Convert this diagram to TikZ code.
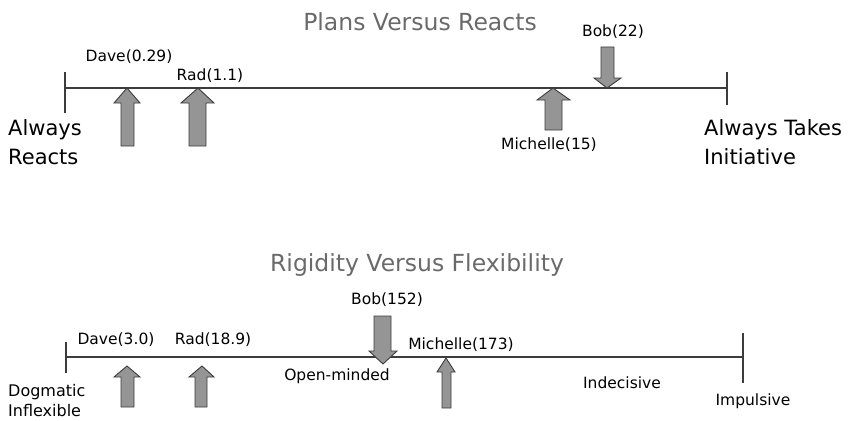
\documentclass[tikz,border=0pt]{standalone}
\usepackage{fontspec}
\setmainfont{DejaVu Sans}
\definecolor{axisgray}{HTML}{3C3C3C}
\definecolor{arrowfill}{HTML}{959595}
\definecolor{titlegray}{HTML}{6A6A6A}
\tikzset{
  axis/.style={axisgray, line width=1.3pt},
  blockarrow/.style={draw=axisgray, fill=arrowfill, line width=0.9pt, line join=miter},
  who/.style={inner sep=0pt, font=\fontsize{15.5}{18}\selectfont},
  pole/.style={inner sep=0pt, align=left, anchor=west, font=\fontsize{21}{29}\selectfont},
  smallpole/.style={inner sep=0pt, align=left, anchor=west, font=\fontsize{16}{20}\selectfont},
  heading/.style={inner sep=0pt, text=titlegray, font=\fontsize{23.5}{27}\selectfont}
}
\begin{document}
\begin{tikzpicture}[x=1pt,y=-1pt]
    \useasboundingbox (0,0) rectangle (853,420);

    % plans versus reacts
    \node[heading] (title1) at (420,22) {Plans Versus Reacts};
    \draw[axis] (65,88) -- (727,88);
    \draw[axis] (65,72) -- (65,113);
    \draw[axis] (727,72) -- (727,105);

    \draw[blockarrow] (127,88) -- (140,103) -- (134,103) -- (134,146) -- (121,146) -- (121,103) -- (114,103) -- cycle;
    \draw[blockarrow] (198,88) -- (214,103) -- (206,103) -- (206,146) -- (189,146) -- (189,103) -- (181,103) -- cycle;
    \draw[blockarrow] (553,88) -- (570,100) -- (562,100) -- (562,130) -- (545,130) -- (545,100) -- (537,100) -- cycle;
    \draw[blockarrow] (607,88) -- (621,78) -- (614,78) -- (614,47) -- (601,47) -- (601,78) -- (594,78) -- cycle;

    \node[who] (dave1) at (129,57) {Dave(0.29)};
    \node[who] (rad1) at (210,76) {Rad(1.1)};
    \node[who] (bob1) at (613,32) {Bob(22)};
    \node[who] (michelle1) at (549,145) {Michelle(15)};

    \node[pole] (reacts) at (8,142.5) {Always\\Reacts};
    \node[pole] (initiative) at (704,142.5) {Always Takes\\Initiative};

    % rigidity versus flexibility
    \node[heading] (title2) at (417,265) {Rigidity Versus Flexibility};
    \draw[axis] (66,357) -- (743,357);
    \draw[axis] (66,342) -- (66,373);
    \draw[axis] (743,333) -- (743,383);

    \draw[blockarrow] (127,366) -- (140,377) -- (134,377) -- (134,407) -- (121,407) -- (121,377) -- (114,377) -- cycle;
    \draw[blockarrow] (202,366) -- (214,377) -- (207,377) -- (207,407) -- (195,407) -- (195,377) -- (189,377) -- cycle;
    \draw[blockarrow] (383,364) -- (397,351) -- (391,351) -- (391,316) -- (374,316) -- (374,351) -- (369,351) -- cycle;
    \draw[blockarrow] (446,358) -- (455,372) -- (451,372) -- (451,408) -- (442,408) -- (442,372) -- (437,372) -- cycle;

    \node[who] (dave2) at (116,340) {Dave(3.0)};
    \node[who] (rad2) at (213,340) {Rad(18.9)};
    \node[who] (bob2) at (387,300) {Bob(152)};
    \node[who] (michelle2) at (461,345) {Michelle(173)};
    \node[who] (openminded) at (337,376) {Open-minded};
    \node[who] (indecisive) at (622,383) {Indecisive};
    \node[who] (impulsive) at (753,401) {Impulsive};

    \node[smallpole] (dogmatic) at (8,400.5) {Dogmatic\\Inflexible};
\end{tikzpicture}
\end{document}
